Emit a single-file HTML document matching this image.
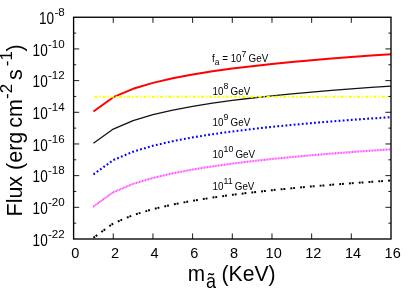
<!DOCTYPE html>
<html><head><meta charset="utf-8"><style>
html,body{margin:0;padding:0;background:#fff;}
svg{display:block;will-change:transform;font-family:"Liberation Sans",sans-serif;}
</style></head><body>
<svg width="415" height="297" viewBox="0 0 415 297">
<rect width="415" height="297" fill="#fff"/>
<polyline points="93.44,111.49 113.27,97.19 133.11,88.82 152.95,82.89 172.79,78.28 192.62,74.52 212.46,71.34 232.30,68.58 252.14,66.15 271.98,63.98 291.81,62.01 311.65,60.21 331.49,58.56 351.32,57.03 371.16,55.61 391.00,54.28" fill="none" stroke="#ff0000" stroke-width="2.0" stroke-linejoin="round"/>
<polyline points="93.44,143.33 113.27,129.03 133.11,120.66 152.95,114.72 172.79,110.12 192.62,106.35 212.46,103.17 232.30,100.42 252.14,97.99 271.98,95.81 291.81,93.85 311.65,92.05 331.49,90.40 351.32,88.87 371.16,87.45 391.00,86.11" fill="none" stroke="#111" stroke-width="1.3" stroke-linejoin="round"/>
<polyline points="93.44,174.38 113.27,160.07 133.11,151.70 152.95,145.77 172.79,141.16 192.62,137.40 212.46,134.22 232.30,131.46 252.14,129.03 271.98,126.86 291.81,124.89 311.65,123.10 331.49,121.44 351.32,119.91 371.16,118.49 391.00,117.16" fill="none" stroke="#0000ff" stroke-width="2.1" stroke-dasharray="1.8,2.3"/>
<path d="M93.44 205.48v2.1M94.69 204.57v2.1M95.95 203.67v2.1M97.21 202.76v2.1M98.47 201.85v2.1M99.72 200.95v2.1M100.98 200.04v2.1M102.24 199.13v2.1M103.50 198.23v2.1M104.75 197.32v2.1M106.01 196.41v2.1M107.27 195.51v2.1M108.52 194.60v2.1M109.78 193.69v2.1M111.04 192.79v2.1M112.30 191.88v2.1M113.59 191.04v2.1M115.02 190.44v2.1M116.45 189.84v2.1M117.88 189.23v2.1M119.30 188.63v2.1M120.73 188.03v2.1M122.16 187.43v2.1M123.59 186.83v2.1M125.02 186.22v2.1M126.44 185.62v2.1M127.87 185.02v2.1M129.30 184.42v2.1M130.73 183.81v2.1M132.16 183.21v2.1M133.60 182.66v2.1M135.09 182.22v2.1M136.57 181.77v2.1M138.06 181.33v2.1M139.54 180.88v2.1M141.03 180.44v2.1M142.51 179.99v2.1M144.00 179.55v2.1M145.48 179.11v2.1M146.97 178.66v2.1M148.45 178.22v2.1M149.94 177.77v2.1M151.42 177.33v2.1M152.91 176.88v2.1M154.42 176.53v2.1M155.93 176.18v2.1M157.44 175.83v2.1M158.95 175.48v2.1M160.46 175.13v2.1M161.97 174.78v2.1M163.48 174.43v2.1M164.99 174.08v2.1M166.50 173.73v2.1M168.01 173.38v2.1M169.52 173.03v2.1M171.03 172.67v2.1M172.54 172.32v2.1M174.06 172.03v2.1M175.58 171.74v2.1M177.10 171.45v2.1M178.62 171.16v2.1M180.15 170.87v2.1M181.67 170.58v2.1M183.19 170.29v2.1M184.72 170.00v2.1M186.24 169.71v2.1M187.76 169.43v2.1M189.28 169.14v2.1M190.81 168.85v2.1M192.33 168.56v2.1M193.86 168.31v2.1M195.39 168.06v2.1M196.92 167.81v2.1M198.45 167.57v2.1M199.98 167.32v2.1M201.51 167.08v2.1M203.04 166.83v2.1M204.57 166.59v2.1M206.10 166.34v2.1M207.63 166.10v2.1M209.16 165.85v2.1M210.69 165.61v2.1M212.22 165.36v2.1M213.76 165.14v2.1M215.29 164.93v2.1M216.83 164.72v2.1M218.37 164.50v2.1M219.90 164.29v2.1M221.44 164.08v2.1M222.97 163.86v2.1M224.51 163.65v2.1M226.04 163.44v2.1M227.58 163.22v2.1M229.11 163.01v2.1M230.65 162.80v2.1M232.18 162.58v2.1M233.72 162.39v2.1M235.26 162.20v2.1M236.80 162.02v2.1M238.34 161.83v2.1M239.87 161.64v2.1M241.41 161.45v2.1M242.95 161.26v2.1M244.49 161.07v2.1M246.03 160.88v2.1M247.57 160.70v2.1M249.11 160.51v2.1M250.64 160.32v2.1M252.18 160.13v2.1M253.72 159.96v2.1M255.26 159.79v2.1M256.80 159.62v2.1M258.35 159.46v2.1M259.89 159.29v2.1M261.43 159.12v2.1M262.97 158.95v2.1M264.51 158.78v2.1M266.05 158.61v2.1M267.59 158.44v2.1M269.13 158.27v2.1M270.67 158.10v2.1M272.21 157.94v2.1M273.76 157.79v2.1M275.30 157.63v2.1M276.84 157.48v2.1M278.38 157.33v2.1M279.93 157.17v2.1M281.47 157.02v2.1M283.01 156.87v2.1M284.55 156.71v2.1M286.09 156.56v2.1M287.64 156.41v2.1M289.18 156.26v2.1M290.72 156.10v2.1M292.26 155.95v2.1M293.81 155.81v2.1M295.35 155.67v2.1M296.90 155.53v2.1M298.44 155.39v2.1M299.98 155.26v2.1M301.53 155.12v2.1M303.07 154.98v2.1M304.61 154.84v2.1M306.16 154.70v2.1M307.70 154.56v2.1M309.25 154.42v2.1M310.79 154.28v2.1M312.33 154.14v2.1M313.88 154.01v2.1M315.42 153.88v2.1M316.97 153.76v2.1M318.51 153.63v2.1M320.06 153.50v2.1M321.60 153.37v2.1M323.15 153.24v2.1M324.69 153.11v2.1M326.24 152.98v2.1M327.78 152.86v2.1M329.32 152.73v2.1M330.87 152.60v2.1M332.41 152.48v2.1M333.96 152.36v2.1M335.51 152.24v2.1M337.05 152.12v2.1M338.60 152.00v2.1M340.14 151.88v2.1M341.69 151.76v2.1M343.23 151.64v2.1M344.78 151.52v2.1M346.32 151.40v2.1M347.87 151.28v2.1M349.41 151.17v2.1M350.96 151.05v2.1M352.51 150.93v2.1M354.05 150.82v2.1M355.60 150.71v2.1M357.14 150.60v2.1M358.69 150.49v2.1M360.24 150.38v2.1M361.78 150.27v2.1M363.33 150.16v2.1M364.87 150.05v2.1M366.42 149.93v2.1M367.97 149.82v2.1M369.51 149.71v2.1M371.06 149.60v2.1M372.60 149.50v2.1M374.15 149.39v2.1M375.70 149.29v2.1M377.24 149.19v2.1M378.79 149.08v2.1M380.34 148.98v2.1M381.88 148.87v2.1M383.43 148.77v2.1M384.98 148.67v2.1M386.52 148.56v2.1M388.07 148.46v2.1M389.62 148.36v2.1" fill="none" stroke="#ff00ff" stroke-width="0.72"/>
<polyline points="93.44,237.73 113.27,223.43 133.11,215.06 152.95,209.12 172.79,204.52 192.62,200.76 212.46,197.58 232.30,194.82 252.14,192.39 271.98,190.22 291.81,188.25 311.65,186.45 331.49,184.80 351.32,183.27 371.16,181.85 391.00,180.52" fill="none" stroke="#000" stroke-width="2.0" stroke-dasharray="1.9,0.9,1.9,5.1"/>
<line x1="94.24" y1="96.75" x2="391.00" y2="96.75" stroke="#ffff00" stroke-width="2" stroke-dasharray="3.2,1.85,1.3,1.86"/>
<rect x="73.60" y="17.25" width="317.40" height="221.75" fill="none" stroke="#000" stroke-width="1.35"/>
<path d="M73.60 33.09h2.60 M391.00 33.09h-2.60 M73.60 48.93h5.60 M391.00 48.93h-5.60 M73.60 64.77h2.60 M391.00 64.77h-2.60 M73.60 80.61h5.60 M391.00 80.61h-5.60 M73.60 96.45h2.60 M391.00 96.45h-2.60 M73.60 112.29h5.60 M391.00 112.29h-5.60 M73.60 128.12h2.60 M391.00 128.12h-2.60 M73.60 143.96h5.60 M391.00 143.96h-5.60 M73.60 159.80h2.60 M391.00 159.80h-2.60 M73.60 175.64h5.60 M391.00 175.64h-5.60 M73.60 191.48h2.60 M391.00 191.48h-2.60 M73.60 207.32h5.60 M391.00 207.32h-5.60 M73.60 223.16h2.60 M391.00 223.16h-2.60 M113.27 239.00v-5.60 M113.27 17.25v5.60 M152.95 239.00v-5.60 M152.95 17.25v5.60 M192.62 239.00v-5.60 M192.62 17.25v5.60 M232.30 239.00v-5.60 M232.30 17.25v5.60 M271.98 239.00v-5.60 M271.98 17.25v5.60 M311.65 239.00v-5.60 M311.65 17.25v5.60 M351.32 239.00v-5.60 M351.32 17.25v5.60" stroke="#000" stroke-width="0.9" fill="none"/>
<text transform="translate(54.14,23.95) scale(0.87,1)" font-size="15.6" text-anchor="end">10</text>
<text x="64.70" y="15.95" font-size="11.6" text-anchor="end">-8</text>
<text transform="translate(47.69,55.63) scale(0.87,1)" font-size="15.6" text-anchor="end">10</text>
<text x="64.70" y="47.63" font-size="11.6" text-anchor="end">-10</text>
<text transform="translate(47.69,87.31) scale(0.87,1)" font-size="15.6" text-anchor="end">10</text>
<text x="64.70" y="79.31" font-size="11.6" text-anchor="end">-12</text>
<text transform="translate(47.69,118.99) scale(0.87,1)" font-size="15.6" text-anchor="end">10</text>
<text x="64.70" y="110.99" font-size="11.6" text-anchor="end">-14</text>
<text transform="translate(47.69,150.66) scale(0.87,1)" font-size="15.6" text-anchor="end">10</text>
<text x="64.70" y="142.66" font-size="11.6" text-anchor="end">-16</text>
<text transform="translate(47.69,182.34) scale(0.87,1)" font-size="15.6" text-anchor="end">10</text>
<text x="64.70" y="174.34" font-size="11.6" text-anchor="end">-18</text>
<text transform="translate(47.69,214.02) scale(0.87,1)" font-size="15.6" text-anchor="end">10</text>
<text x="64.70" y="206.02" font-size="11.6" text-anchor="end">-20</text>
<text transform="translate(47.69,245.70) scale(0.87,1)" font-size="15.6" text-anchor="end">10</text>
<text x="64.70" y="237.70" font-size="11.6" text-anchor="end">-22</text>
<text transform="translate(75.30,258.3) scale(0.95,1)" font-size="15.3" text-anchor="middle">0</text>
<text transform="translate(114.97,258.3) scale(0.95,1)" font-size="15.3" text-anchor="middle">2</text>
<text transform="translate(154.65,258.3) scale(0.95,1)" font-size="15.3" text-anchor="middle">4</text>
<text transform="translate(194.32,258.3) scale(0.95,1)" font-size="15.3" text-anchor="middle">6</text>
<text transform="translate(234.00,258.3) scale(0.95,1)" font-size="15.3" text-anchor="middle">8</text>
<text transform="translate(273.68,258.3) scale(0.95,1)" font-size="15.3" text-anchor="middle">10</text>
<text transform="translate(313.35,258.3) scale(0.95,1)" font-size="15.3" text-anchor="middle">12</text>
<text transform="translate(353.02,258.3) scale(0.95,1)" font-size="15.3" text-anchor="middle">14</text>
<text transform="translate(392.70,258.3) scale(0.95,1)" font-size="15.3" text-anchor="middle">16</text>
<text transform="translate(21.8,216.5) rotate(-90)" font-size="21.5">Flux (erg <tspan dx="-2.0">cm</tspan><tspan font-size="17" dy="-9.5" dx="0">-2</tspan><tspan dy="9.5" dx="-2"> s</tspan><tspan font-size="17" dy="-9.5" dx="3">-1</tspan><tspan dy="9.5" dx="-0.5">)</tspan></text>
<text transform="translate(187.80,280.80) scale(0.975,1)" font-size="21.30" text-anchor="start">m</text>
<text transform="translate(206.00,287.60) scale(0.930,1)" font-size="19.40" text-anchor="start">ã</text>
<text transform="translate(221.50,281.00) scale(0.965,1)" font-size="21.90" text-anchor="start">(KeV)</text>
<text transform="translate(212.00,62.40) scale(0.925,1)" font-size="10.6">f<tspan font-size="9.2" dy="2.6">a</tspan><tspan dy="-2.6"> = </tspan>10<tspan font-size="9.5" dy="-5.3">7</tspan><tspan dy="5.3" dx="-0.6"> GeV</tspan></text>
<text transform="translate(212.60,94.50) scale(0.925,1)" font-size="10.6">10<tspan font-size="9.5" dy="-5.3">8</tspan><tspan dy="5.3" dx="-0.6"> GeV</tspan></text>
<text transform="translate(212.60,125.60) scale(0.925,1)" font-size="10.6">10<tspan font-size="9.5" dy="-5.3">9</tspan><tspan dy="5.3" dx="-0.6"> GeV</tspan></text>
<text transform="translate(212.60,157.60) scale(0.925,1)" font-size="10.6">10<tspan font-size="9.5" dy="-5.3">10</tspan><tspan dy="5.3" dx="-0.6"> GeV</tspan></text>
<text transform="translate(212.60,189.60) scale(0.925,1)" font-size="10.6">10<tspan font-size="9.5" dy="-5.3">11</tspan><tspan dy="5.3" dx="-0.6"> GeV</tspan></text>
</svg></body></html>
